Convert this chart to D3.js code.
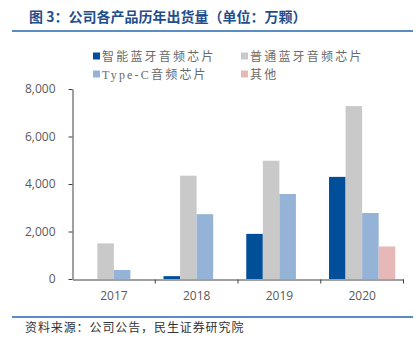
<!DOCTYPE html>
<html><head><meta charset="utf-8">
<script src="https://cdn.jsdelivr.net/npm/d3@7/dist/d3.min.js"></script>
<style>body{margin:0;background:#fff}svg{display:block}</style>
</head><body>
<svg id="c" width="419" height="347"></svg>
<script>
const years = ["2017","2018","2019","2020"];
const seriesNames = ["智能蓝牙音频芯片","普通蓝牙音频芯片","Type-C音频芯片","其他"];
const smartBT = [0, 120, 1900, 4300];
const normalBT = [1500, 4350, 4980, 7280];
const typeC = [380, 2730, 3580, 2780];
const others = [0, 0, 0, 1370];
const seriesValues = [smartBT, normalBT, typeC, others];
const colors = ["#004f98","#c9c9c9","#95b3d7","#e6b9b8"];
const yTicks = [0, 2000, 4000, 6000, 8000];

const svg = d3.select("#c");
const cjk = "'Noto Sans CJK SC', sans-serif";

// header
svg.append("text").attr("x", 29).attr("y", 22).text("图 3：公司各产品历年出货量（单位：万颗）")
  .attr("font-family", cjk).attr("font-weight", "bold").attr("font-size", 14).attr("fill", "#1f4e8c");
svg.append("line").attr("x1", 12).attr("x2", 413).attr("y1", 31).attr("y2", 31)
  .attr("stroke", "#2366b0").attr("stroke-width", 1.5);

const x0 = d3.scaleBand().domain(years).range([72.5, 403.5]).paddingInner(0).paddingOuter(0);
const x1 = d3.scaleBand().domain(d3.range(4))
  .range([x0.bandwidth()*0.1, x0.bandwidth()*0.9]).paddingInner(0).paddingOuter(0);
const y = d3.scaleLinear().domain([0, 8000]).range([279, 89]);

// bars
const g = svg.append("g");
years.forEach((yr, i) => {
  seriesValues.forEach((vals, s) => {
    const v = vals[i];
    if (v <= 0) return;
    g.append("rect").attr("x", x0(yr) + x1(s)).attr("width", x1.bandwidth())
      .attr("y", y(v)).attr("height", y(0) - y(v)).attr("fill", colors[s]);
  });
});

// y axis
const yAxis = d3.axisLeft(y).tickValues(yTicks).tickFormat(d3.format(",")).tickSize(4).tickSizeOuter(0).tickPadding(13);
const ya = svg.append("g").attr("transform", "translate(72.5,0)").call(yAxis);
ya.select(".domain").attr("stroke", "#404040");
ya.selectAll(".tick line").attr("stroke", "#404040");
ya.selectAll("text").attr("font-family", "'Open Sans', sans-serif").attr("font-size", 12).attr("fill", "#595959");

// x axis
const xa = svg.append("g").attr("transform", "translate(0,279.5)")
  .call(d3.axisBottom(x0).tickSize(0).tickPadding(12));
xa.select(".domain").attr("stroke", "#404040");
xa.selectAll("text").attr("font-family", "'Open Sans', sans-serif").attr("font-size", 12).attr("fill", "#595959");
years.slice(1).concat(["end"]).forEach((yr) => {
  const xx = yr === "end" ? 403.5 : x0(yr);
  xa.append("line").attr("x1", xx).attr("x2", xx).attr("y1", 0).attr("y2", 4).attr("stroke", "#404040");
});

// legend
const legPos = [[93, 56], [241, 56], [93, 74], [241, 74]];
seriesNames.forEach((n, s) => {
  const [lx, ly] = legPos[s];
  svg.append("rect").attr("x", lx).attr("y", ly - 3.5).attr("width", 7).attr("height", 7).attr("fill", colors[s]);
  svg.append("text").attr("x", lx + 9).attr("y", ly + 4.5).text(n)
    .attr("font-family", "'Liberation Serif', 'Noto Sans CJK SC', serif").attr("font-size", 12)
    .attr("letter-spacing", 2.2).attr("fill", "#6a6a6a");
});

// footer
svg.append("line").attr("x1", 12).attr("x2", 413).attr("y1", 317).attr("y2", 317)
  .attr("stroke", "#2366b0").attr("stroke-width", 1.5);
svg.append("text").attr("x", 25).attr("y", 332).text("资料来源：公司公告，民生证券研究院")
  .attr("font-family", cjk).attr("font-size", 12).attr("letter-spacing", 0.9).attr("fill", "#333");
</script>
</body></html>
